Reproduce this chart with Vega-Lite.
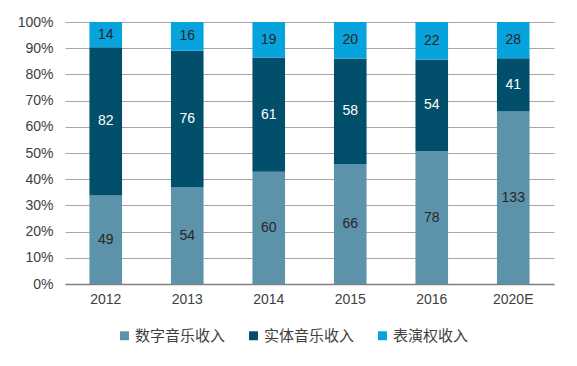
{
  "$schema": "https://vega.github.io/schema/vega-lite/v6.json",
  "width": 489,
  "height": 262,
  "autosize": {"type": "none"},
  "padding": {"left": 65, "top": 22, "right": 23, "bottom": 82},
  "background": "white",
  "config": {
    "view": {"stroke": null},
    "font": "Liberation Sans",
    "axis": {"labelFont": "Liberation Sans", "labelColor": "#404040", "labelFontSize": 14, "title": null, "labelOverlap": false},
    "legend": {"labelFont": "Noto Sans CJK SC", "labelFontSize": 15, "labelColor": "#404040"}
  },
  "data": {
    "values": [
      {"year": "2012", "series": "数字音乐收入", "o": 1, "v": 49},
      {"year": "2012", "series": "实体音乐收入", "o": 2, "v": 82},
      {"year": "2012", "series": "表演权收入", "o": 3, "v": 14},
      {"year": "2013", "series": "数字音乐收入", "o": 1, "v": 54},
      {"year": "2013", "series": "实体音乐收入", "o": 2, "v": 76},
      {"year": "2013", "series": "表演权收入", "o": 3, "v": 16},
      {"year": "2014", "series": "数字音乐收入", "o": 1, "v": 60},
      {"year": "2014", "series": "实体音乐收入", "o": 2, "v": 61},
      {"year": "2014", "series": "表演权收入", "o": 3, "v": 19},
      {"year": "2015", "series": "数字音乐收入", "o": 1, "v": 66},
      {"year": "2015", "series": "实体音乐收入", "o": 2, "v": 58},
      {"year": "2015", "series": "表演权收入", "o": 3, "v": 20},
      {"year": "2016", "series": "数字音乐收入", "o": 1, "v": 78},
      {"year": "2016", "series": "实体音乐收入", "o": 2, "v": 54},
      {"year": "2016", "series": "表演权收入", "o": 3, "v": 22},
      {"year": "2020E", "series": "数字音乐收入", "o": 1, "v": 133},
      {"year": "2020E", "series": "实体音乐收入", "o": 2, "v": 41},
      {"year": "2020E", "series": "表演权收入", "o": 3, "v": 28}
    ]
  },
  "transform": [
    {"stack": "v", "groupby": ["year"], "sort": [{"field": "o", "order": "ascending"}], "offset": "normalize", "as": ["y0", "y1"]},
    {"calculate": "(datum.y0 + datum.y1) / 2", "as": "ym"}
  ],
  "encoding": {
    "x": {
      "field": "year", "type": "nominal", "sort": null,
      "scale": {"paddingInner": 0.6, "paddingOuter": 0.3},
      "axis": {"labelAngle": 0, "ticks": false, "domainColor": "#7f7f7f", "domainWidth": 1.5, "labelPadding": 8, "grid": false}
    }
  },
  "layer": [
    {
      "mark": {"type": "bar"},
      "encoding": {
        "y": {
          "field": "y0", "type": "quantitative",
          "scale": {"domain": [0, 1], "nice": false},
          "axis": {"format": "%", "values": [0, 0.1, 0.2, 0.3, 0.4, 0.5, 0.6, 0.7, 0.8, 0.9, 1], "grid": true, "gridColor": "#a6a6a6", "gridWidth": 1, "domain": false, "ticks": false, "labelPadding": 12}
        },
        "y2": {"field": "y1"},
        "color": {
          "field": "series", "type": "nominal",
          "scale": {"domain": ["数字音乐收入", "实体音乐收入", "表演权收入"], "range": ["#5d93aa", "#024f6b", "#06a3dd"]},
          "legend": {"title": null, "orient": "none", "legendX": 52, "legendY": 306, "direction": "horizontal", "symbolType": "square", "symbolSize": 80, "symbolStrokeWidth": 0, "columnPadding": 20, "labelOffset": 3}
        }
      }
    },
    {
      "mark": {"type": "text", "fontSize": 14, "font": "Liberation Sans", "baseline": "middle"},
      "encoding": {
        "y": {
          "field": "ym", "type": "quantitative",
          "scale": {"domain": [0, 1], "nice": false},
          "axis": {"format": "%", "values": [0, 0.1, 0.2, 0.3, 0.4, 0.5, 0.6, 0.7, 0.8, 0.9, 1], "grid": true, "gridColor": "#a6a6a6", "gridWidth": 1, "domain": false, "ticks": false, "labelPadding": 12}
        },
        "text": {"field": "v", "type": "quantitative"},
        "color": {
          "condition": {"test": "datum.series === '实体音乐收入'", "value": "white"},
          "value": "#262626"
        }
      }
    }
  ]
}
